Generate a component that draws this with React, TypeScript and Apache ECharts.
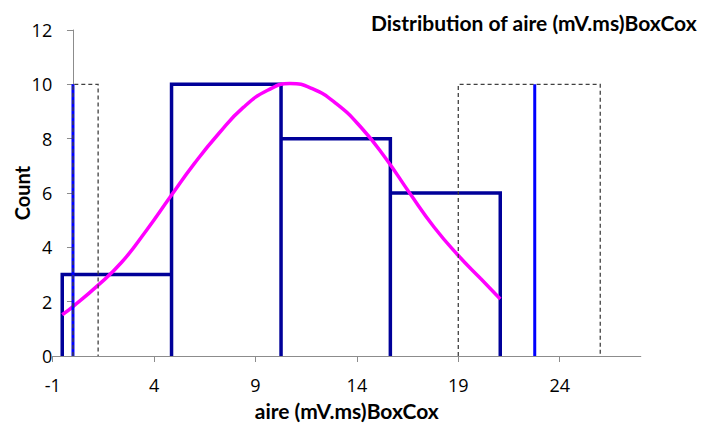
import React, { useEffect, useRef } from 'react';
import * as echarts from 'echarts';

// Histogram bins (edges on the x axis) and their counts
const binEdges = [-0.53, 4.86, 10.26, 15.65, 21.07];
const binCounts = [3, 10, 8, 6];

// Blue vertical limit lines
const limitX = [0, 22.77];
const limitTop = 10;

// Dashed boxes
const boxLeft = [0, 19];
const boxRight = [1.24, 26];
const boxTop = 10;

// Fitted normal curve
const curveX = [-0.53, 0.0, 1.2, 2.4, 3.6, 4.8, 6.0, 7.2, 8.4, 9.6, 10.7, 11.8, 13.0, 14.2, 15.4, 16.6, 17.8, 19.0, 20.1, 21.07];
const curveY = [1.52, 1.82, 2.58, 3.45, 4.6, 5.86, 7.1, 8.2, 9.15, 9.78, 10.03, 9.84, 9.28, 8.42, 7.3, 6.0, 4.75, 3.7, 2.85, 2.1];

// Axis ticks
const xTicks = [-1, 4, 9, 14, 19, 24];
const xMin = -1;
const xMax = 28;
const yMin = 0;
const yMax = 12;
const yStep = 2;

const titleText = 'Distribution of aire (mV.ms)BoxCox';
const xName = 'aire (mV.ms)BoxCox';
const yName = 'Count';

const BOLD_FONT = 'Lato, "Open Sans", sans-serif';
const TICK_FONT = '"Open Sans", Lato, sans-serif';
const AXIS_GRAY = '#8c8c8c';

export default function App() {
  const ref = useRef<HTMLDivElement>(null);

  useEffect(() => {
    if (!ref.current) return;
    const chart = echarts.init(ref.current, null, { renderer: 'svg' });

    const histData: number[][] = [[binEdges[0], 0]];
    binCounts.forEach((c, i) => {
      histData.push([binEdges[i], c], [binEdges[i + 1], c], [binEdges[i + 1], 0]);
    });

    const curveData = curveX.map((x, i) => [x, curveY[i]]);

    const limitSeries = limitX.map((x) => ({
      type: 'line',
      data: [[x, 0], [x, limitTop]],
      symbol: 'none',
      lineStyle: { color: '#0000ff', width: 3, cap: 'butt' },
      silent: true,
      z: 4,
    }));

    const boxSeries = boxLeft.map((l, i) => ({
      type: 'line',
      data: [[l, 0], [l, boxTop], [boxRight[i], boxTop], [boxRight[i], 0]],
      symbol: 'none',
      lineStyle: { color: '#404040', width: 1.3, type: [4, 3], cap: 'butt', join: 'miter' },
      silent: true,
      z: 5,
    }));

    chart.setOption({
      animation: false,
      title: {
        text: titleText,
        right: 6,
        top: 12,
        padding: 0,
        textStyle: { fontFamily: BOLD_FONT, fontSize: 21, fontWeight: 'bold', color: '#000' },
      },
      grid: {
        left: 52.7,
        right: 62.2,
        top: 30,
        bottom: 67,
        containLabel: false,
        outerBoundsMode: 'none',
      },
      xAxis: {
        type: 'value',
        min: xMin,
        max: xMax,
        name: xName,
        nameLocation: 'middle',
        nameGap: 44,
        nameMoveOverlap: false,
        nameTextStyle: { fontFamily: BOLD_FONT, fontSize: 21, fontWeight: 'bold', color: '#000' },
        axisLine: { show: true, lineStyle: { color: AXIS_GRAY, width: 1 } },
        axisTick: { show: true, length: 6, customValues: xTicks, lineStyle: { color: AXIS_GRAY } },
        axisLabel: { customValues: xTicks, margin: 20, fontFamily: TICK_FONT, fontSize: 18, color: '#000' },
        splitLine: { show: false },
      },
      yAxis: {
        type: 'value',
        min: yMin,
        max: yMax,
        interval: yStep,
        name: yName,
        nameLocation: 'middle',
        nameRotate: 90,
        nameGap: 21,
        nameMoveOverlap: false,
        nameTextStyle: { fontFamily: BOLD_FONT, fontSize: 20, fontWeight: 'bold', color: '#000' },
        axisLine: { show: true, onZero: true, lineStyle: { color: AXIS_GRAY, width: 1 } },
        axisTick: { show: true, length: 6, lineStyle: { color: AXIS_GRAY } },
        axisLabel: { margin: 0.5, fontFamily: TICK_FONT, fontSize: 18, color: '#000' },
        splitLine: { show: false },
      },
      series: [
        {
          type: 'line',
          data: histData,
          symbol: 'none',
          lineStyle: { color: '#000099', width: 3.5, cap: 'butt', join: 'miter' },
          silent: true,
          z: 2,
        },
        {
          type: 'line',
          data: curveData,
          symbol: 'none',
          smooth: true,
          lineStyle: { color: '#ff00ff', width: 3.5 },
          silent: true,
          z: 3,
        },
        ...limitSeries,
        ...boxSeries,
      ],
    });

    return () => chart.dispose();
  }, []);

  return (
    <div
      ref={ref}
      style={{ position: 'fixed', left: 0, top: 0, width: 703, height: 423, background: '#fff' }}
    />
  );
}
